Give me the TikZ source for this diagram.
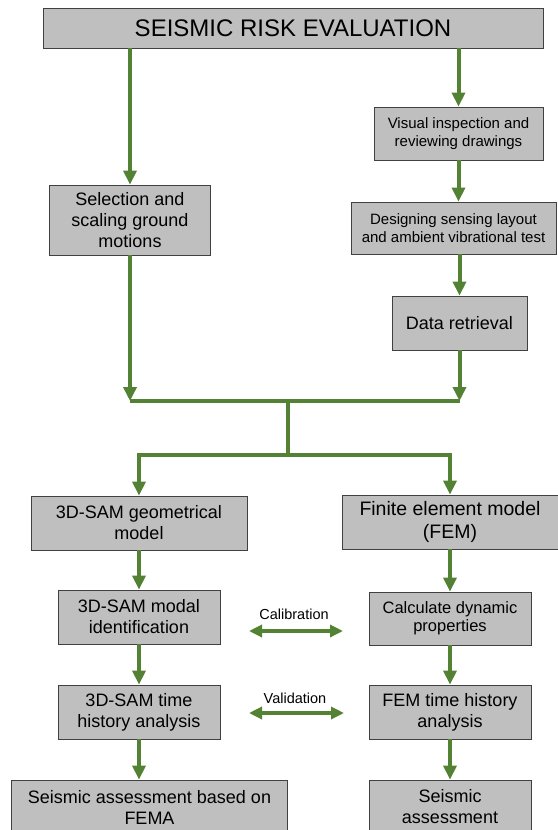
\documentclass[tikz,border=0pt]{standalone}
\usepackage{fontspec}
\setmainfont{Liberation Sans}
\usetikzlibrary{arrows.meta}
\definecolor{flowgreen}{RGB}{84,130,53}
\definecolor{boxgray}{RGB}{191,191,191}
\definecolor{boxedge}{RGB}{64,64,64}
\newcommand{\fsz}[2]{\fontsize{#1}{#2}\selectfont}

\begin{document}
\begin{tikzpicture}[x=1pt, y=-1pt, >={Triangle[length=14pt, width=13pt]}, every node/.style={font=\fsz{18}{21}},
	box/.style={draw=boxedge, fill=boxgray, line width=0.8pt, inner sep=0pt, align=center},
	flow/.style={->, line width=4pt, flowgreen},
	both/.style={{Triangle[length=13pt, width=12pt]}-{Triangle[length=13pt, width=12pt]}, line width=4pt, flowgreen}]
	\useasboundingbox (0,0) rectangle (557,830);
	\node[box, minimum width=500pt, minimum height=40pt, font=\fsz{24}{28}] (risk) at (293,28) {SEISMIC RISK EVALUATION};
	\node[box, minimum width=161pt, minimum height=70pt] (sel) at (130,220) {Selection and\\ scaling ground\\ motions};
	\node[box, minimum width=169pt, minimum height=53pt, font=\fsz{15}{18}] (vis) at (458.5,133.5) {Visual inspection and\\ reviewing drawings};
	\node[box, minimum width=205pt, minimum height=52pt, font=\fsz{15}{18}] (des) at (453.5,228) {Designing sensing layout\\ and ambient vibrational test};
	\node[box, minimum width=135pt, minimum height=54pt] (data) at (459.5,323) {Data retrieval};
	\node[box, minimum width=216pt, minimum height=54pt] (geom) at (139,523) {3D-SAM geometrical\\ model};
	\node[box, minimum width=216pt, minimum height=54pt, font=\fsz{19.5}{23}] (fem) at (450,522) {Finite element model\\ (FEM)};
	\node[box, minimum width=162pt, minimum height=54pt] (modal) at (139,617) {3D-SAM modal\\ identification};
	\node[box, minimum width=162pt, minimum height=53pt, font=\fsz{16.5}{18}] (calc) at (450,618.5) {Calculate dynamic\\ properties};
	\node[box, minimum width=162pt, minimum height=54pt] (hist) at (139,712) {3D-SAM time\\ history analysis};
	\node[box, minimum width=162pt, minimum height=54pt] (femhist) at (450,712) {FEM time history\\ analysis};
	\node[box, minimum width=276pt, minimum height=54pt] (fema) at (149.5,807) {Seismic assessment based on\\ FEMA};
	\node[box, minimum width=162pt, minimum height=54pt] (assess) at (450,807) {Seismic\\ assessment};
	\node[font=\fsz{14.5}{17}] (calib) at (294,614) {Calibration};
	\node[font=\fsz{14.5}{17}] (valid) at (295,698) {Validation};
	\coordinate (join) at (288,401); \coordinate (split) at (288,455);
	\coordinate (cal-l) at (249,631); \coordinate (cal-r) at (343,631);
	\coordinate (val-l) at (249,713); \coordinate (val-r) at (344,713);
	\draw[flow] (risk.south -| sel.north) -- (sel.north);
	\draw[flow] (risk.south -| vis.north) -- (vis.north);
	\draw[flow] (vis.south) -- (vis.south |- des.north);
	\draw[flow] (data.north |- des.south) -- (data.north);
	\draw[flow] (sel.south) -- (sel.south |- join);
	\draw[flow] (data.south) -- (data.south |- join);
	\draw[line width=4pt, flowgreen] (sel.south |- join) -- (data.south |- join);
	\draw[line width=4pt, flowgreen] (join) -- (split);
	\draw[flow] (split) -| (geom.north);
	\draw[flow] (split) -| (fem.north);
	\draw[flow] (geom) -- (modal);
	\draw[flow] (modal) -- (hist);
	\draw[flow] (hist.south) -- (hist.south |- fema.north);
	\draw[flow] (fem) -- (calc);
	\draw[flow] (calc) -- (femhist);
	\draw[flow] (femhist) -- (assess);
	\draw[both] (cal-l) -- (cal-r);
	\draw[both] (val-l) -- (val-r);
\end{tikzpicture}
\end{document}
